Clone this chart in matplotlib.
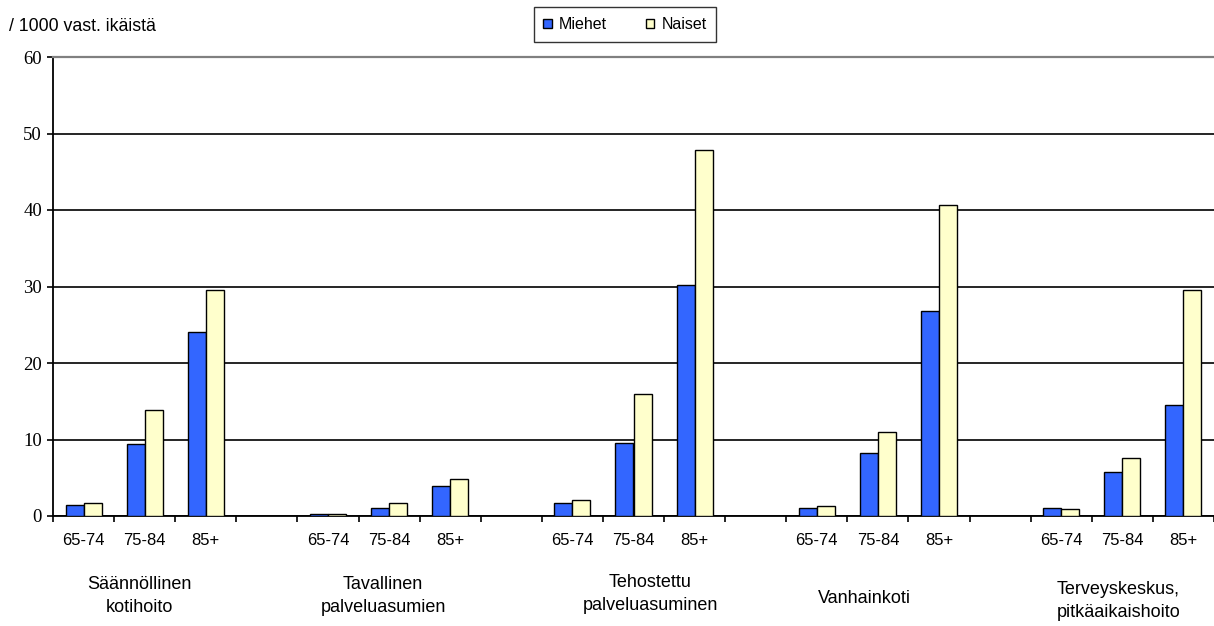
import numpy as np
import matplotlib
matplotlib.use('Agg')
from matplotlib import pyplot as plt

# palvelut / 1000 vastaavan ikäistä, miehet ja naiset
groups = ['Säännöllinen\nkotihoito', 'Tavallinen\npalveluasumien',
          'Tehostettu\npalveluasuminen', 'Vanhainkoti',
          'Terveyskeskus,\npitkäaikaishoito']
ages = ['65-74', '75-84', '85+']
miehet = [1.5, 9.4, 24.1,
          0.2, 1.0, 3.9,
          1.7, 9.6, 30.2,
          1.1, 8.2, 26.8,
          1.1, 5.7, 14.5]
naiset = [1.7, 13.9, 29.5,
          0.2, 1.7, 4.9,
          2.1, 16.0, 47.8,
          1.3, 11.0, 40.7,
          0.9, 7.6, 29.5]

sans = ['Liberation Sans', 'DejaVu Sans']
serif = ['Liberation Serif', 'DejaVu Serif']

fig = plt.figure(figsize=(12.14, 6.26), dpi=100)
ax = fig.add_axes([53 / 1214, 110 / 626, 1 - 53 / 1214, 459 / 626])

# 3 ikäryhmää + tyhjä väli jokaisessa ryhmässä
slots = []
for g in range(len(groups)):
    for a in range(len(ages)):
        slots.append(g * (len(ages) + 1) + a)
slots = np.array(slots)
n_slots = len(groups) * (len(ages) + 1) - 1
w = 0.295

ax.bar(slots + 0.5 - w / 2, miehet, w, color='#3366FF', edgecolor='black',
       linewidth=1.0, label='Miehet', zorder=3)
ax.bar(slots + 0.5 + w / 2, naiset, w, color='#FFFFCC', edgecolor='black',
       linewidth=1.0, label='Naiset', zorder=3)

ax.set_xlim(0, n_slots)
ax.set_ylim(0, 60)
ax.set_yticks(np.arange(0, 61, 10))
ax.yaxis.grid(True, color='black', linewidth=1.2, zorder=0)
ax.set_axisbelow(True)

ax.set_xticks(np.arange(0, n_slots + 1))
ax.set_xticklabels([])
ax.set_xticks(slots + 0.5, minor=True)
ax.set_xticklabels(ages * len(groups), minor=True, family=sans, fontsize=12)
ax.tick_params(axis='x', which='major', direction='out', length=4, width=1.2)
ax.tick_params(axis='x', which='minor', length=0, pad=12.5)
ax.tick_params(axis='y', direction='out', length=4, width=1.2, pad=4)
for lbl in ax.get_yticklabels():
    lbl.set_family(serif)
    lbl.set_fontsize(13.5)

ax.spines['right'].set_visible(False)
ax.spines['top'].set_color('#808080')
ax.spines['top'].set_linewidth(1.6)
ax.spines['left'].set_linewidth(1.3)
ax.spines['bottom'].set_linewidth(1.3)

# ryhmien nimet ikäryhmien alle (pieni siirto px)
nudge_x = [-5, -6, 17, -13, -4]
nudge_y = [0, 0, -2, 3, 5]
for g, name in enumerate(groups):
    xc = g * (len(ages) + 1) + len(ages) / 2
    ax.annotate(name, xy=(xc, 0), xycoords=('data', 'axes fraction'),
                xytext=(nudge_x[g] * 0.72, -57.5 - nudge_y[g] * 0.72),
                textcoords='offset points',
                ha='center', va='center', family=sans, fontsize=13,
                linespacing=1.45)

fig.text(9 / 1214, 1 - 26.5 / 626, '/ 1000 vast. ikäistä', family=sans,
         fontsize=12.8, va='center', ha='left')

leg = fig.legend(loc='center', bbox_to_anchor=(625 / 1214, 1 - 24.5 / 626),
                 ncol=2, prop={'family': sans, 'size': 11.5}, frameon=True,
                 fancybox=False, edgecolor='black', handlelength=0.55,
                 handleheight=0.55, handletextpad=0.45, columnspacing=2.4,
                 borderpad=0.6, borderaxespad=0)
leg.get_frame().set_linewidth(1.0)

fig.savefig('out.png', dpi=100)
